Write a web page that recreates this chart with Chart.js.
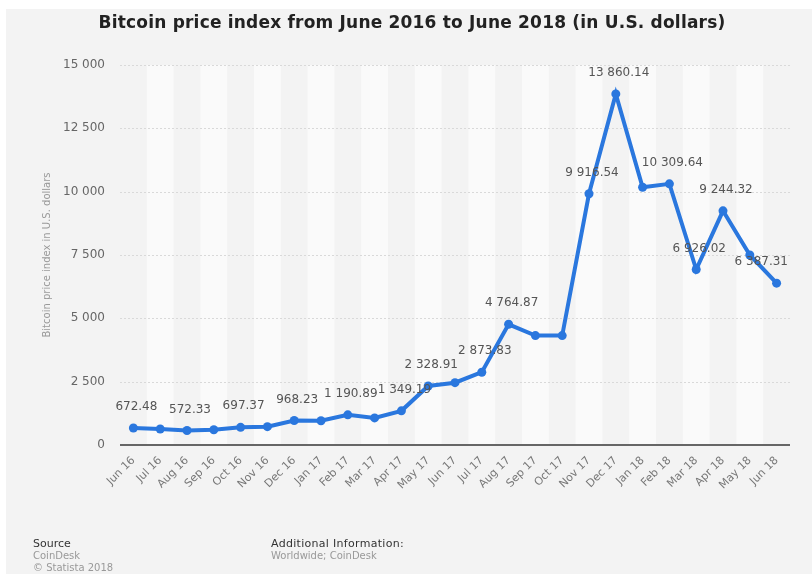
<!DOCTYPE html>
<html>
<head>
<meta charset="utf-8">
<script src="https://cdn.jsdelivr.net/npm/chart.js@4/dist/chart.umd.min.js"></script>
<style>
  html, body { margin: 0; padding: 0; background: #ffffff; }
  #wrap { position: relative; width: 812px; height: 574px; overflow: hidden; }
  #card { position: absolute; left: 6px; top: 9px; width: 806px; height: 565px; background: #f3f3f3; }
  canvas { position: absolute; left: 0; top: 0; }
  .t { position: absolute; font-family: "DejaVu Sans", sans-serif; white-space: nowrap; }
  #title { left: 0; width: 824px; top: 12px; text-align: center; font-size: 17px; letter-spacing: 0.2px; font-weight: bold; color: #222; }
  .fh { font-size: 11px; color: #333; }
  .fs { font-size: 10px; color: #999; }
</style>
</head>
<body>
<div id="wrap">
  <div id="card"></div>
  <canvas id="c" width="812" height="574"></canvas>
  <div class="t" id="title">Bitcoin price index from June 2016 to June 2018 (in U.S. dollars)</div>
  <div class="t fh" style="left:33px; top:537px;">Source</div>
  <div class="t fs" style="left:33px; top:550px;">CoinDesk</div>
  <div class="t fs" style="left:33px; top:562px;">© Statista 2018</div>
  <div class="t fh" style="left:271px; top:537px; letter-spacing:0.3px;">Additional Information:</div>
  <div class="t fs" style="left:271px; top:550px;">Worldwide; CoinDesk</div>
</div>
<script>
const months = ['Jun 16','Jul 16','Aug 16','Sep 16','Oct 16','Nov 16','Dec 16','Jan 17','Feb 17','Mar 17','Apr 17','May 17','Jun 17','Jul 17','Aug 17','Sep 17','Oct 17','Nov 17','Dec 17','Jan 18','Feb 18','Mar 18','Apr 18','May 18','Jun 18'];
const prices = [672.48, 632, 572.33, 600, 697.37, 725, 968.23, 955, 1190.89, 1070, 1349.19, 2328.91, 2460, 2873.83, 4764.87, 4320, 4320, 9916.54, 13860.14, 10175, 10309.64, 6926.02, 9244.32, 7500, 6387.31];
const labeledPoints = [0, 2, 4, 6, 8, 10, 11, 13, 14, 17, 18, 20, 21, 22, 24];
const yTicks = [0, 2500, 5000, 7500, 10000, 12500, 15000];

function fmt(v, dec) {
  const s = v.toFixed(dec);
  const parts = s.split('.');
  parts[0] = parts[0].replace(/\B(?=(\d{3})+(?!\d))/g, ' ');
  return parts.join('.');
}

const bandPlugin = {
  id: 'bands',
  beforeDatasetsDraw(chart) {
    const {ctx, chartArea} = chart;
    const x = chart.scales.x;
    const w = x.getPixelForValue(1) - x.getPixelForValue(0);
    ctx.save();
    for (let i = 0; i < months.length; i++) {
      if (i % 2 === 1) {
        const cx = x.getPixelForValue(i);
        ctx.fillStyle = '#fafafa';
        ctx.fillRect(cx - w / 2, chartArea.top, w, chartArea.bottom - chartArea.top);
      }
    }
    ctx.restore();
  }
};

const gridPlugin = {
  id: 'grid2',
  beforeDatasetsDraw(chart) {
    const {ctx, chartArea} = chart;
    const y = chart.scales.y;
    ctx.save();
    ctx.strokeStyle = '#d9d9d9';
    ctx.lineWidth = 1;
    ctx.setLineDash([2, 2]);
    yTicks.forEach(v => {
      if (v === 0) return;
      const py = Math.round(y.getPixelForValue(v)) + 0.5;
      ctx.beginPath();
      ctx.moveTo(chartArea.left, py);
      ctx.lineTo(chartArea.right, py);
      ctx.stroke();
    });
    ctx.setLineDash([]);
    ctx.strokeStyle = '#666';
    ctx.lineWidth = 2;
    const p0 = y.getPixelForValue(0);
    ctx.beginPath();
    ctx.moveTo(chartArea.left, p0);
    ctx.lineTo(chartArea.right, p0);
    ctx.stroke();
    ctx.restore();
  }
};

const labelPlugin = {
  id: 'vlabels',
  afterDatasetsDraw(chart) {
    const {ctx, chartArea} = chart;
    const meta = chart.getDatasetMeta(0);
    ctx.save();
    ctx.font = '12px "DejaVu Sans"';
    ctx.fillStyle = '#555';
    ctx.textAlign = 'center';
    ctx.textBaseline = 'middle';
    labeledPoints.forEach(i => {
      const pt = meta.data[i];
      const txt = fmt(prices[i], 2);
      const w = ctx.measureText(txt).width;
      let cx = pt.x + 3;
      if (cx + w / 2 > chartArea.right - 2) cx = chartArea.right - 2 - w / 2;
      ctx.fillText(txt, cx, pt.y - 21);
    });
    ctx.restore();
  }
};

new Chart(document.getElementById('c'), {
  type: 'line',
  data: {
    labels: months,
    datasets: [{
      data: prices,
      borderColor: '#2a77de',
      backgroundColor: '#2a77de',
      pointBackgroundColor: '#2a77de',
      pointBorderColor: '#2a77de',
      borderWidth: 4,
      pointRadius: 4.5,
      pointBorderWidth: 0,
      tension: 0,
      fill: false
    }]
  },
  options: {
    responsive: false,
    animation: false,
    devicePixelRatio: 1,
    layout: { padding: { top: 65, right: 22, left: 0, bottom: 0 } },
    plugins: { legend: { display: false }, title: { display: false }, tooltip: { enabled: false } },
    scales: {
      x: {
        offset: true,
        grid: { display: false, drawTicks: false },
        border: { display: false },
        ticks: {
          autoSkip: false,
          maxRotation: 45,
          minRotation: 45,
          padding: 9,
          color: '#777',
          font: { family: 'DejaVu Sans', size: 11 }
        },
        afterFit(scale) { scale.height = 129; }
      },
      y: {
        min: 0,
        max: 15000,
        grid: { display: false, drawTicks: false },
        border: { display: false },
        ticks: {
          stepSize: 2500,
          padding: 15,
          color: '#666',
          font: { family: 'DejaVu Sans', size: 12 },
          callback: v => fmt(v, 0)
        },
        title: {
          display: true,
          text: 'Bitcoin price index in U.S. dollars',
          color: '#999',
          font: { family: 'DejaVu Sans', size: 10 },
          padding: { top: 41, bottom: 0 }
        },
        afterFit(scale) { scale.width = 120; }
      }
    }
  },
  plugins: [bandPlugin, gridPlugin, labelPlugin]
});
</script>
</body>
</html>
